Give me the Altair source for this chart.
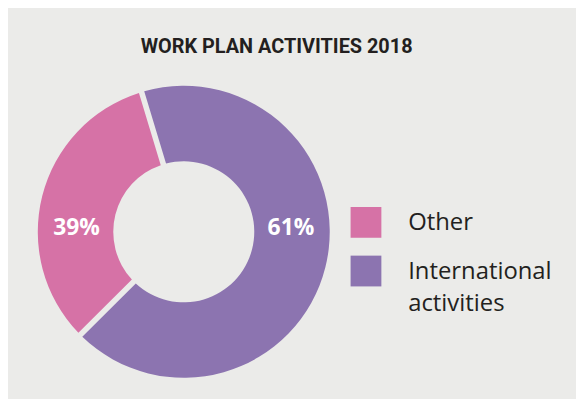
import altair as alt
import pandas as pd
import math

# ---- data ----
categories = ["International activities", "Other"]
legend_labels = ["Other", "International\nactivities"]
legend_order = ["Other", "International activities"]
label_text = ["61%", "39%"]
arc_share = [67.2, 32.8]          # arc extent as drawn in the reference
label_angle = [88, 272]           # degrees, clockwise from 12 o'clock
colors = ["#8c74b0", "#d672a6"]

BG = "#ebebe9"

pie_df = pd.DataFrame({
    "category": categories,
    "share": arc_share,
    "idx": [0, 1],
    "label": label_text,
    "angle": label_angle,
})
leg_df = pd.DataFrame({"category": legend_order, "label": legend_labels})

color_scale = alt.Scale(domain=categories, range=colors)
start = math.radians(343.2)

arcs = alt.Chart(pie_df).mark_arc(innerRadius=71, outerRadius=147, padAngle=0.034).encode(
    theta=alt.Theta("share:Q", stack=True, scale=alt.Scale(range=[start, start + 2 * math.pi])),
    color=alt.Color("category:N", scale=color_scale, legend=None),
    order=alt.Order("idx:Q"),
)

labels = alt.Chart(pie_df).mark_text(
    radius=108, font="Open Sans", fontWeight="bold", fontSize=23, color="white",
    align="center", baseline="middle",
).encode(
    theta=alt.Theta("angle:Q", stack=False,
                    scale=alt.Scale(domain=[0, 360], range=[0, 2 * math.pi])),
    text="label:N",
)

pie = alt.layer(arcs, labels).resolve_scale(theta="independent").properties(width=294, height=294)

ypos = alt.Y("category:N", sort=legend_order, axis=None,
             scale=alt.Scale(type="point", domain=legend_order, range=[137.5, 186.5], padding=0))

squares = alt.Chart(leg_df).mark_square(size=961, opacity=1).encode(
    x=alt.value(15.5),
    y=ypos,
    color=alt.Color("category:N", scale=color_scale, legend=None),
)
leg_text = alt.Chart(leg_df).mark_text(
    align="left", baseline="alphabetic", dy=8, lineBreak="\n", lineHeight=32,
    font="Open Sans", fontSize=24, color="#231f20",
).encode(
    x=alt.value(58),
    y=ypos,
    text="label:N",
)
legend = alt.layer(squares, leg_text).properties(width=210, height=294)

chart = alt.hconcat(pie, legend, spacing=21).properties(
    title=alt.TitleParams(
        "WORK PLAN ACTIVITIES 2018",
        font="Roboto",
        fontSize=20, fontWeight="bold", color="#231f20",
        anchor="middle", dx=-22, offset=29,
    ),
    background=BG,
    padding={"left": 30, "top": 28, "right": 17, "bottom": 20},
).configure_view(stroke=None)

chart.save("out.html", embed_options={"renderer": "svg", "actions": False})
